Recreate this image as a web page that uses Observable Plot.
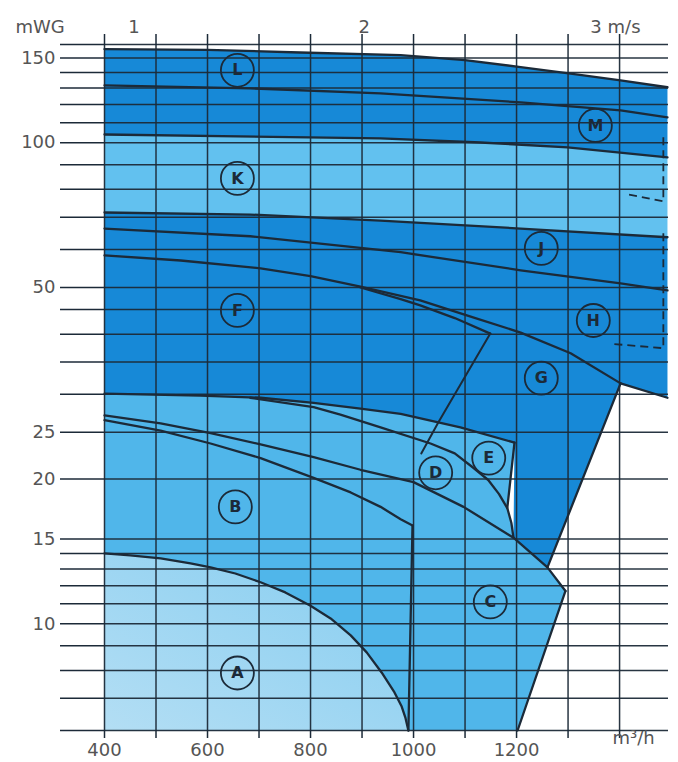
<!DOCTYPE html>
<html>
<head>
<meta charset="utf-8">
<script src="https://cdn.jsdelivr.net/npm/d3@7"></script>
<script src="https://cdn.jsdelivr.net/npm/@observablehq/plot@0.6"></script>
<style>
  html, body { margin: 0; padding: 0; background: #fff; }
  #chart { width: 678px; height: 762px; }
</style>
</head>
<body>
<div id="chart"></div>
<script>
// ---- axes / tick data ----
const gridFlows = [400, 500, 600, 700, 800, 900, 1000, 1100, 1200, 1300, 1400];
const flowLabels = [400, 600, 800, 1000, 1200];
const headGrid = [6, 7, 8, 9, 10, 11, 12, 13, 14, 15, 20, 25, 30, 35, 40, 45, 50, 60, 70, 80, 90, 100, 110, 120, 130, 140, 150, 160];
const headLabels = [10, 15, 20, 25, 50, 100, 150];
const velocity = [1, 2, 3];
const velocityFlow = [456, 903, 1353];

// ---- curves [flow m3/h, head mWG] ----
const lTop   = [[400,156.5],[600,156],[780,154],[975,152],[1100,148.5],[1208,143.6],[1305,139.2],[1402,134.8],[1493,130.4]];
const curve2 = [[400,131.6],[683,129.7],[936,126.6],[1208,121.3],[1402,116.7],[1493,112.9]];
const curve3 = [[400,104],[936,102.1],[1130,100.1],[1299,97.8],[1493,93.2]];
const curve4 = [[400,71.6],[683,70.9],[936,68.9],[1208,66.3],[1493,63.6]];
const curve5 = [[400,66.3],[683,63.9],[975,59.2],[1208,54.3],[1402,51.0],[1493,49.3]];
const curve6 = [[400,58.3],[548,56.9],[703,54.8],[800,52.8],[897,50.2],[1013,47.0],[1111,43.5],[1208,40.3],[1305,36.5],[1402,31.6]];
const curve6b = [[897,50.0],[975,47.3],[1013,45.9],[1080,43.2],[1149,40.1]];
const sepLine = [[1149,40.1],[1048,26.2],[1015,22.6]];
const fBottom = [[400,30.1],[586,29.8],[703,29.5],[806,28.8],[897,28.0],[975,27.3],[1091,25.6],[1196,23.8]];
const eEdge  = [[1196,23.8],[1182,17.4]];
const dCurve = [[683,29.5],[806,28.2],[858,27.2],[936,25.6],[1033,23.7],[1080,22.6],[1116,21.1],[1145,19.9],[1166,18.6],[1182,17.4],[1190,16.2],[1194,15.1]];
const b2     = [[400,27.1],[509,26.1],[606,24.9],[703,23.6],[806,22.2],[897,20.9],[1000,19.7],[1097,17.5],[1194,15.1],[1260,13.1],[1295,11.7]];
const cEdge  = [[1295,11.7],[1202,6]];
const b3     = [[400,26.5],[509,25.2],[606,23.7],[703,22.1],[806,20.1],[878,18.75],[936,17.5],[975,16.5],[998,16.0]];
const bcEdge = [[998,16.0],[990,6]];
const aCurve = [[400,14.0],[450,13.87],[509,13.67],[567,13.35],[606,13.1],[654,12.72],[703,12.2],[751,11.62],[800,10.9],[839,10.26],[878,9.46],[909,8.72],[938,7.92],[963,7.2],[977,6.73],[984,6.39],[990,6.0]];
const gEdge  = [[1402,31.6],[1260,13.1]];
const hBottom = [[1402,31.6],[1493,29.5]];
const dashed1 = [[1485,102.6],[1485,75.5],[1415,78.1]];
const dashed2 = [[1485,64.8],[1485,37.4],[1382,38.2]];

// ---- region labels ----
const letters = ["L","K","M","J","F","H","G","E","D","B","C","A"];
const letterQ = [658, 658, 1353, 1248, 658, 1349, 1248, 1146, 1043, 654, 1149, 658];
const letterH = [141.4, 84.3, 108.6, 60.3, 44.8, 42.7, 32.4, 22.1, 20.6, 17.5, 11.1, 7.9];

// ---- colours ----
const dark = "#1789d7", kLight = "#62c1ef", medium = "#50b6ea", aLight = "url(#gradA)";
const ink = "#1c2a38", txt = "#555";

// ---- polygons built from the curves ----
const rev = a => a.slice().reverse();
const polyTop = [...lTop, ...rev(curve3)];
const polyK = [...curve3, ...rev(curve4)];
const polyDark = [...curve4, hBottom[1], hBottom[0], gEdge[1], b2[8], ...rev(fBottom)];
const polyMed = [...fBottom, eEdge[1], ...dCurve.slice(-2), b2[9], b2[10], cEdge[1], [400, 6]];
const polyA = [...aCurve, [400, 6]];

const fillPoly = (pts, color) => Plot.line(pts, {x: d => d[0], y: d => d[1], fill: color, stroke: "none", curve: "linear"});
const strokeLine = (pts, opts = {}) => Plot.line(pts, {x: d => d[0], y: d => d[1], stroke: ink, strokeWidth: 2.3, curve: "linear", ...opts});

const font = "'DejaVu Sans', Verdana, sans-serif";

const chart = Plot.plot({
  width: 678,
  height: 762,
  marginLeft: 104,
  marginRight: 10,
  marginTop: 44,
  marginBottom: 32,
  x: {type: "linear", domain: [400, 1495]},
  y: {type: "log", domain: [6, 160]},
  style: {fontFamily: font, background: "white", color: ink},
  marks: [
    fillPoly(polyTop, dark),
    fillPoly(polyK, kLight),
    fillPoly(polyDark, dark),
    fillPoly(polyMed, medium),
    fillPoly(polyA, aLight),
    Plot.gridX({ticks: gridFlows, stroke: ink, strokeOpacity: 0.95, strokeWidth: 1.5}),
    Plot.gridY({ticks: headGrid, stroke: ink, strokeOpacity: 0.95, strokeWidth: 1.5}),
    Plot.axisY({ticks: headGrid, tickSize: 44, tickPadding: 5, stroke: ink, strokeWidth: 1.5, fill: txt, fontSize: 18, label: null,
      tickFormat: d => headLabels.includes(d) ? String(d) : ""}),
    Plot.axisX({anchor: "bottom", ticks: gridFlows, tickSize: 8, tickPadding: 5, stroke: ink, strokeWidth: 1.5, fill: txt, fontSize: 18, label: null,
      tickFormat: d => flowLabels.includes(d) ? String(d) : ""}),
    Plot.axisX({anchor: "top", ticks: gridFlows, tickSize: 11, stroke: ink, strokeWidth: 1.5, label: null, tickFormat: () => ""}),
    strokeLine(lTop),
    strokeLine(curve2),
    strokeLine(curve3),
    strokeLine(curve4),
    strokeLine(curve5),
    strokeLine(curve6),
    strokeLine(curve6b),
    strokeLine(sepLine, {strokeWidth: 2}),
    strokeLine(fBottom),
    strokeLine(eEdge),
    strokeLine(dCurve),
    strokeLine(b2),
    strokeLine(cEdge),
    strokeLine(b3),
    strokeLine(bcEdge),
    strokeLine(aCurve),
    strokeLine(gEdge),
    strokeLine(hBottom),
    strokeLine(dashed1, {strokeDasharray: "8,5", strokeWidth: 1.8, strokeLinecap: "butt"}),
    strokeLine(dashed2, {strokeDasharray: "8,5", strokeWidth: 1.8, strokeLinecap: "butt"}),
    Plot.dot(letters, {x: (d, i) => letterQ[i], y: (d, i) => letterH[i], r: 16.5, stroke: ink, strokeWidth: 1.8, fill: "none"}),
    Plot.text(letters, {x: (d, i) => letterQ[i], y: (d, i) => letterH[i], text: d => d, fill: ink, fontSize: 16, fontWeight: "bold"}),
    Plot.text(velocity, {x: (d, i) => velocityFlow[i], frameAnchor: "top", dy: -24, dx: -5, textAnchor: "start",
      text: (d, i) => i === velocity.length - 1 ? d + " m/s" : String(d), fill: txt, fontSize: 18}),
    Plot.text(["mWG"], {frameAnchor: "top-left", dx: -89, dy: -24, textAnchor: "start", text: d => d, fill: txt, fontSize: 18}),
    Plot.text(["m³/h"], {frameAnchor: "bottom-right", dx: -35, dy: 13, textAnchor: "middle", text: d => d, fill: txt, fontSize: 18})
  ]
});

// gradient for the lightest region (A)
const ns = "http://www.w3.org/2000/svg";
const defs = document.createElementNS(ns, "defs");
const grad = document.createElementNS(ns, "linearGradient");
grad.setAttribute("id", "gradA");
grad.setAttribute("x1", "0"); grad.setAttribute("y1", "1");
grad.setAttribute("x2", "1"); grad.setAttribute("y2", "0");
[["0%", "#b3def4"], ["100%", "#86cdf0"]].forEach(([o, c]) => {
  const s = document.createElementNS(ns, "stop");
  s.setAttribute("offset", o); s.setAttribute("stop-color", c);
  grad.appendChild(s);
});
defs.appendChild(grad);
chart.insertBefore(defs, chart.firstChild);

document.getElementById("chart").appendChild(chart);
</script>
</body>
</html>
